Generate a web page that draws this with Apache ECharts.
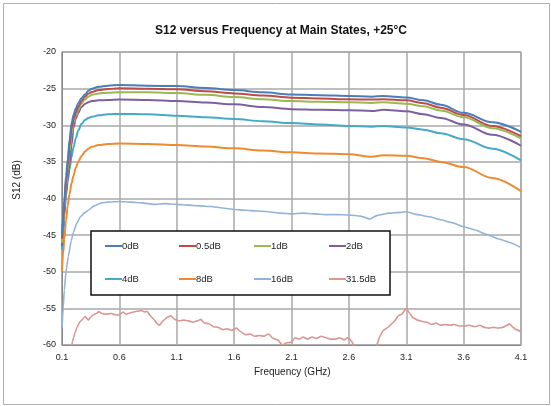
<!DOCTYPE html>
<html><head><meta charset="utf-8">
<script src="https://cdn.jsdelivr.net/npm/echarts@6/dist/echarts.min.js"></script>
<style>html,body{margin:0;padding:0;background:#fff}#c{width:551px;height:406px}</style>
</head><body><div id="c"></div>
<script>
var seriesNames = ['0dB','0.5dB','1dB','2dB','4dB','8dB','16dB','31.5dB'];
var colors = ['#4a7ebb','#be4b48','#98b954','#7d60a0','#46aac5','#f08a32','#95b3d7','#d99694'];
var freqMain = [0.1,0.11,0.12,0.135,0.15,0.165,0.184,0.2,0.22,0.242,0.27,0.3,0.33,0.36,0.42,0.5,0.6,0.85,1.1,1.35,1.6,1.85,2.1,2.35,2.6,2.8,2.9,3.1,3.25,3.4,3.6,3.85,4.1];
var s0dB   = [-45,-42.5,-40.2,-37,-34.7,-32,-29.7,-28.6,-27.7,-27.0,-26.3,-25.8,-25.3,-25.0,-24.75,-24.6,-24.5,-24.6,-24.65,-24.9,-25.2,-25.5,-25.8,-25.9,-26.0,-26.1,-26.0,-26.2,-26.6,-27.2,-28.3,-29.6,-30.9];
var s05dB  = [-45.5,-43,-40.7,-37.6,-35.4,-32.8,-30.4,-29.2,-28.3,-27.5,-26.7,-26.1,-25.7,-25.45,-25.2,-25.05,-24.95,-25.0,-25.1,-25.35,-25.65,-25.95,-26.23,-26.35,-26.45,-26.5,-26.45,-26.6,-27.0,-27.6,-28.6,-30.1,-31.5];
var s1dB   = [-46,-43.6,-41.3,-38.3,-36.2,-33.6,-31.2,-29.6,-28.7,-27.9,-27.0,-26.5,-26.1,-25.85,-25.65,-25.55,-25.5,-25.5,-25.6,-25.85,-26.15,-26.45,-26.7,-26.8,-26.87,-26.95,-26.85,-27.05,-27.4,-28.0,-28.9,-30.4,-31.8];
var s2dB   = [-46.5,-44.2,-42,-39.2,-37.3,-35.4,-32.6,-30.3,-29.1,-28.3,-27.5,-27.1,-26.85,-26.7,-26.6,-26.55,-26.5,-26.55,-26.7,-26.9,-27.15,-27.5,-27.8,-27.9,-27.95,-28.05,-27.9,-28.1,-28.5,-29.0,-29.9,-31.3,-32.8];
var s4dB   = [-47,-44.5,-42.3,-39.6,-37.6,-36,-34.3,-33.0,-31.8,-30.7,-29.8,-29.3,-29.0,-28.85,-28.65,-28.5,-28.45,-28.5,-28.7,-28.9,-29.15,-29.45,-29.7,-29.9,-30.1,-30.2,-30.1,-30.3,-30.6,-31.1,-31.9,-33.2,-34.8];
var s8dB   = [-50,-47.5,-45.5,-43,-41,-39.4,-37.9,-36.9,-35.8,-35.0,-34.2,-33.6,-33.2,-32.95,-32.7,-32.55,-32.5,-32.55,-32.7,-32.9,-33.15,-33.45,-33.7,-33.85,-33.95,-34.3,-34.1,-34.15,-34.5,-35.0,-35.7,-37.2,-39.0];
var freq16 = [0.1,0.11,0.12,0.135,0.155,0.18,0.2,0.228,0.26,0.3,0.33,0.38,0.446,0.5,0.6,0.7,0.8,0.9,1.0,1.1,1.2,1.3,1.4,1.5,1.6,1.7,1.8,1.9,2.0,2.1,2.2,2.3,2.4,2.5,2.6,2.7,2.78,2.85,2.95,3.05,3.1,3.2,3.3,3.4,3.5,3.6,3.7,3.8,3.9,4.0,4.1];
var s16dB  = [-57.7,-55,-52.5,-50,-47.9,-45.8,-44.6,-43.4,-42.5,-41.9,-41.6,-41.0,-40.6,-40.5,-40.4,-40.5,-40.6,-40.8,-40.7,-40.8,-40.9,-41.0,-41.1,-41.3,-41.5,-41.6,-41.7,-41.8,-42.0,-42.1,-42.0,-42.1,-42.2,-42.2,-42.25,-42.4,-42.8,-42.3,-42.0,-41.9,-41.8,-42.2,-42.5,-42.9,-43.3,-43.85,-44.3,-44.9,-45.5,-46.0,-46.7];
var freq315 = [0.184,0.19,0.2,0.213,0.23,0.257,0.28,0.3,0.33,0.35,0.37,0.4,0.42,0.45,0.475,0.53,0.57,0.6,0.63,0.66,0.7,0.75,0.79,0.82,0.84,0.87,0.9,0.93,0.95,0.98,1.02,1.05,1.08,1.12,1.16,1.2,1.24,1.28,1.31,1.34,1.38,1.42,1.46,1.5,1.54,1.58,1.62,1.66,1.7,1.74,1.78,1.82,1.86,1.9,1.94,1.98,2.02,2.06,2.1,2.13,2.17,2.2,2.24,2.28,2.32,2.36,2.4,2.44,2.48,2.52,2.56,2.59,2.62,2.65,2.7,2.8,2.84,2.87,2.9,2.94,2.98,3.0,3.03,3.06,3.1,3.13,3.16,3.2,3.24,3.28,3.32,3.36,3.4,3.44,3.48,3.52,3.56,3.6,3.65,3.7,3.74,3.78,3.82,3.86,3.9,3.94,3.98,4.0,4.03,4.06,4.1];
var s315dB = [-60.2,-59.6,-59.0,-58.4,-57.6,-56.8,-56.5,-56.1,-56.6,-56.2,-55.9,-55.7,-55.45,-55.7,-55.8,-55.7,-55.9,-55.9,-55.5,-55.8,-55.6,-55.4,-55.3,-55.5,-55.4,-56.0,-56.5,-57.1,-57.3,-56.7,-56.2,-56.0,-56.5,-56.7,-56.6,-56.7,-56.9,-56.7,-56.5,-57.0,-57.1,-57.5,-57.6,-57.9,-57.8,-58.0,-57.7,-58.2,-58.6,-58.5,-58.8,-58.7,-58.8,-58.5,-59.1,-59.3,-60.0,-59.7,-59.6,-59.0,-59.2,-58.9,-59.2,-58.9,-59.1,-58.8,-59.0,-59.2,-59.2,-59.0,-59.3,-59.0,-59.4,-60.3,-61,-61,-60.2,-58.8,-58.0,-57.6,-57.0,-56.7,-56.0,-55.8,-55.0,-55.7,-56.3,-56.6,-56.8,-56.9,-57.2,-57.0,-57.3,-57.2,-57.3,-57.2,-57.4,-57.4,-57.3,-57.5,-57.3,-57.6,-57.7,-57.6,-57.7,-57.6,-57.3,-57.1,-57.6,-57.9,-58.2];

function pairs(xs, ys){ return xs.map(function(x,i){ return [x, ys[i]]; }); }
var allData = [
  pairs(freqMain,s0dB), pairs(freqMain,s05dB), pairs(freqMain,s1dB), pairs(freqMain,s2dB),
  pairs(freqMain,s4dB), pairs(freqMain,s8dB), pairs(freq16,s16dB), pairs(freq315,s315dB)
];
var FONT = 'Liberation Sans, Arial, sans-serif';
var series = seriesNames.map(function(n,i){
  var main = i < 6;
  return {
    name: n, type: 'line', data: allData[i], showSymbol: false, symbol: 'none',
    smooth: main ? 0.35 : 0.15, smoothMonotone: 'x', clip: true,
    lineStyle: { color: colors[i], width: main ? 2 : 1.6 },
    itemStyle: { color: colors[i] }, z: 10 - i
  };
});
var legendLeft = [105,179,254,329];
var legendTop = [241,274];
var legends = seriesNames.map(function(n,i){
  return {
    data: [n], left: legendLeft[i % 4], top: legendTop[Math.floor(i / 4)],
    icon: 'rect', itemWidth: 17, itemHeight: 2, z: 30,
    selectedMode: false, padding: 0,
    textStyle: { fontFamily: FONT, fontSize: 9.5, color: '#222', padding: [0,0,0,-5] }
  };
});
var chart = echarts.init(document.getElementById('c'), null, {renderer: 'canvas'});
chart.setOption({
  backgroundColor: '#fff',
  animation: false,
  title: {
    text: 'S12 versus Frequency at Main States, +25°C', left: 276, top: 20, textAlign: 'center',
    textStyle: { fontFamily: FONT, fontSize: 12, fontWeight: 'bold', color: '#111' }
  },
  grid: { left: 62, top: 52, right: 30, bottom: 61, show: true, borderColor: '#888', borderWidth: 1 },
  xAxis: {
    type: 'value', min: 0.1, max: 4.1, interval: 0.5,
    axisLine: { show: true, onZero: false, lineStyle: { color: '#888' } },
    axisTick: { show: false },
    axisLabel: { fontFamily: FONT, fontSize: 9, color: '#222', margin: 8,
      formatter: function(v){ return (Math.round(v*10)/10).toFixed(1); } },
    splitLine: { show: true, lineStyle: { color: '#a8a8a8', width: 1.5 } }
  },
  yAxis: {
    type: 'value', min: -60, max: -20, interval: 5,
    axisLine: { show: true, lineStyle: { color: '#888' } },
    axisTick: { show: false },
    axisLabel: { fontFamily: FONT, fontSize: 9, color: '#222', margin: 6 },
    splitLine: { show: true, lineStyle: { color: '#a8a8a8', width: 1.5 } }
  },
  legend: legends,
  graphic: [
    { type: 'rect', shape: { x: 3.5, y: 3.5, width: 546, height: 401 }, style: { fill: 'none', stroke: '#b0b0b0', lineWidth: 1 }, z: 1, silent: true },
    { type: 'rect', shape: { x: 91, y: 231, width: 299, height: 64 }, style: { fill: '#fff', stroke: '#111', lineWidth: 1.5 }, z: 20, silent: true },
    { type: 'text', left: 254, top: 367, style: { text: 'Frequency (GHz)', font: '10px ' + FONT, fill: '#222' }, z: 5 },
    { type: 'text', x: 17, y: 180, rotation: Math.PI/2, style: { text: 'S12 (dB)', font: '10px ' + FONT, fill: '#222', textAlign: 'center', textVerticalAlign: 'middle' }, z: 5 }
  ],
  series: series
});
</script></body></html>
